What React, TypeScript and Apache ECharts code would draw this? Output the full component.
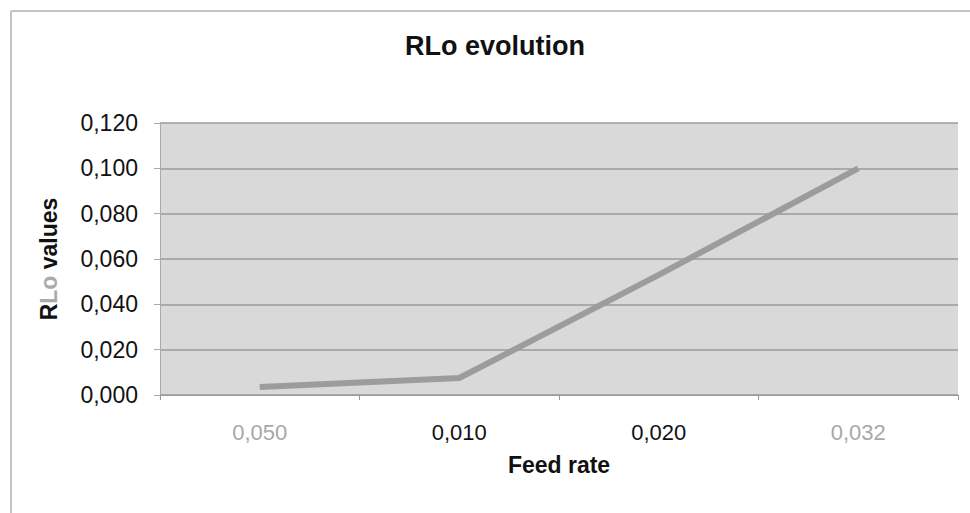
import React, { useEffect, useRef } from "react";
import * as echarts from "echarts";

const categories = ["0,050", "0,010", "0,020", "0,032"];
const categoryColors = ["#a8a8a8", "#111111", "#111111", "#a8a8a8"];
const rloValues = [0.0035, 0.0075, 0.053, 0.1];
const yTicks = { min: 0, max: 0.12, interval: 0.02 };

const FONT = "Liberation Sans";

export default function App() {
  const ref = useRef<HTMLDivElement>(null);
  useEffect(() => {
    if (!ref.current) return;
    const chart = echarts.init(ref.current, null, { renderer: "svg" });
    chart.setOption({
      animation: false,
      backgroundColor: "#ffffff",
      title: {
        text: "RLo evolution",
        left: 495,
        textAlign: "center",
        top: 32,
        padding: 0,
        textStyle: { fontFamily: FONT, fontSize: 27, fontWeight: "bold", color: "#111" },
      },
      graphic: [
        { type: "line", shape: { x1: 11, y1: 11, x2: 970, y2: 11 }, style: { stroke: "#c4c4c4", lineWidth: 2 } },
        { type: "line", shape: { x1: 11, y1: 11, x2: 11, y2: 513 }, style: { stroke: "#c4c4c4", lineWidth: 2 } },
      ],
      grid: {
        left: 160,
        right: 12,
        top: 123,
        bottom: 118,
        show: true,
        backgroundColor: "#d9d9d9",
        borderWidth: 0,
      },
      xAxis: {
        type: "category",
        data: categories.map((c, i) => ({ value: c, textStyle: { color: categoryColors[i] } })),
        boundaryGap: true,
        name: "Feed rate",
        nameLocation: "middle",
        nameGap: 58,
        nameMoveOverlap: false,
        nameTextStyle: { fontFamily: FONT, fontSize: 23, fontWeight: "bold", color: "#111" },
        axisLine: { show: true, lineStyle: { color: "#999", width: 1 } },
        axisTick: { show: true, length: 5, lineStyle: { color: "#999" } },
        axisLabel: { fontFamily: FONT, fontSize: 22, margin: 26 },
      },
      yAxis: {
        type: "value",
        min: yTicks.min,
        max: yTicks.max,
        interval: yTicks.interval,
        name: "{r|R}{lo|Lo}{v| values}",
        nameLocation: "middle",
        nameRotate: 90,
        nameGap: 100,
        nameMoveOverlap: false,
        nameTextStyle: {
          fontFamily: FONT,
          fontSize: 23,
          fontWeight: "bold",
          rich: {
            r: { fontFamily: FONT, fontSize: 23, fontWeight: "bold", color: "#111" },
            lo: { fontFamily: FONT, fontSize: 23, fontWeight: "bold", color: "#aaaaaa" },
            v: { fontFamily: FONT, fontSize: 23, fontWeight: "bold", color: "#111" },
          },
        },
        axisLine: { show: true, lineStyle: { color: "#aaa", width: 1 } },
        axisTick: { show: true, length: 6, lineStyle: { color: "#aaa" } },
        axisLabel: {
          fontFamily: FONT,
          fontSize: 23,
          color: "#111",
          margin: 22,
          formatter: (v: number) => v.toFixed(3).replace(".", ","),
        },
        splitLine: { show: true, lineStyle: { color: "#9a9a9a", width: 1.5 } },
      },
      series: [
        {
          type: "line",
          data: rloValues,
          symbol: "none",
          lineStyle: { color: "#9c9c9c", width: 6 },
        },
      ],
    });
    return () => chart.dispose();
  }, []);
  return <div ref={ref} style={{ width: 970, height: 513, position: "absolute", left: 0, top: 0 }} />;
}
